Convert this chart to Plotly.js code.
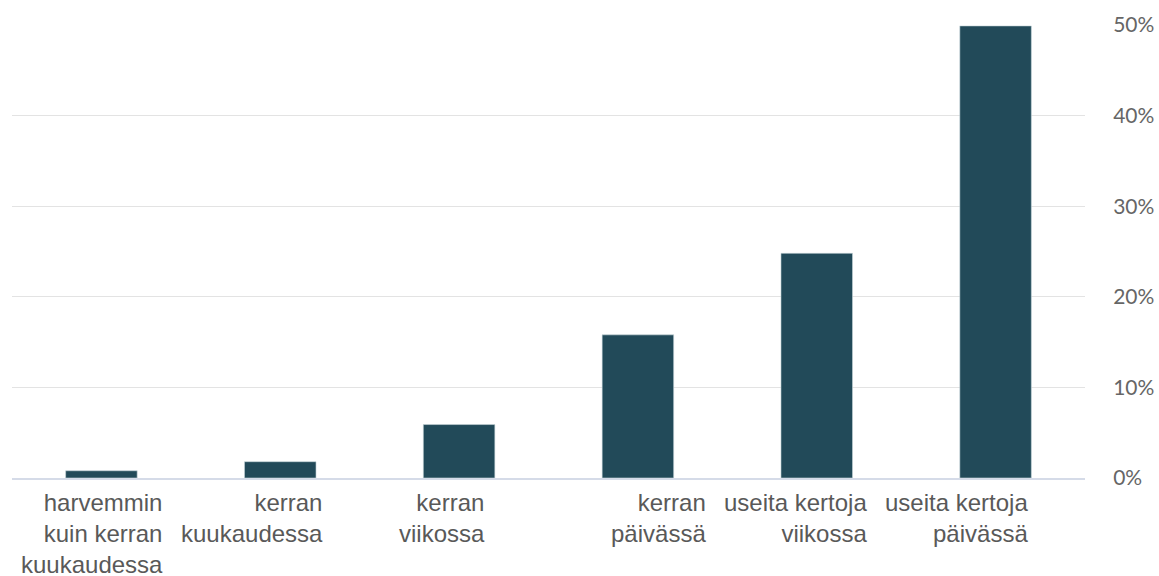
<!DOCTYPE html>
<html>
<head>
<meta charset="utf-8">
<script src="https://cdn.plot.ly/plotly-3.0.1.min.js"></script>
<style>html,body{margin:0;padding:0;background:#fff;}#chart{width:1159px;height:576px;}</style>
</head>
<body>
<div id="chart"></div>
<script>
const categories = [
  "harvemmin<br>kuin kerran<br>kuukaudessa",
  "kerran<br>kuukaudessa",
  "kerran<br>viikossa",
  "kerran<br>päivässä",
  "useita kertoja<br>viikossa",
  "useita kertoja<br>päivässä"
];
const values = [0.8, 1.8, 5.9, 15.8, 24.8, 49.9];
const tickValues = [0, 10, 20, 30, 40, 50];
const tickLabels = ["0%", "10%", "20%", "30%", "40%", "50%"];

const xIdx = categories.map((c, i) => i);
const labelShift = [64, 45, 28, 70, 52, 34];

const annotations = categories.map((c, i) => ({
  x: i, xref: 'x', y: 0, yref: 'paper',
  xanchor: 'right', yanchor: 'top', align: 'right',
  xshift: labelShift[i], yshift: -9,
  text: c, showarrow: false,
  font: {family: '"Liberation Sans", Arial, sans-serif', size: 24, color: '#595959'}
}));

const trace = {
  type: 'bar', x: xIdx, y: values,
  marker: {color: '#224a59', line: {color: '#c9d6dc', width: 0.6}},
  hoverinfo: 'skip'
};

const layout = {
  width: 1159, height: 576,
  margin: {l: 12, r: 74, t: 25, b: 98},
  paper_bgcolor: '#ffffff', plot_bgcolor: '#ffffff',
  bargap: 0.6,
  showlegend: false,
  xaxis: {
    range: [-0.5, 5.5], showticklabels: false, showgrid: false, zeroline: false,
    showline: true, linecolor: '#d5dbe8', linewidth: 1.5, ticks: ''
  },
  yaxis: {
    side: 'right', range: [0, 50], tickvals: tickValues, ticktext: tickLabels,
    showgrid: true, gridcolor: '#e3e3e3', gridwidth: 1, zeroline: false,
    ticks: 'outside', ticklen: 23, tickcolor: 'rgba(0,0,0,0)',
    tickfont: {family: 'Lato, sans-serif', size: 21, color: '#666666'}
  },
  annotations: annotations
};

Plotly.newPlot('chart', [trace], layout, {staticPlot: true, displayModeBar: false});
</script>
</body>
</html>
